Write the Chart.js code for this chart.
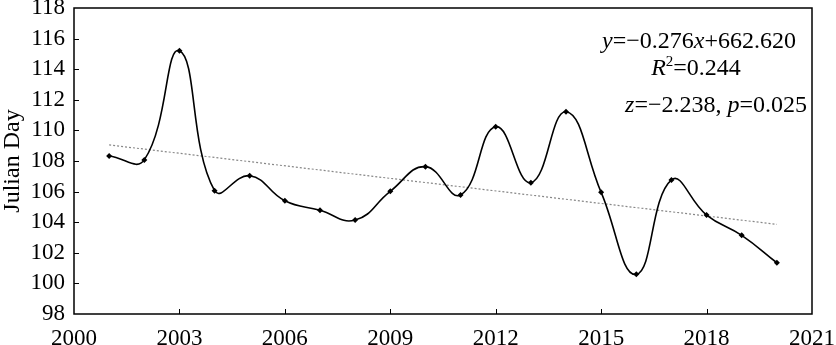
<!DOCTYPE html>
<html>
<head>
<meta charset="utf-8">
<script src="https://cdn.jsdelivr.net/npm/chart.js@4/dist/chart.umd.min.js"></script>
<style>
  html, body { margin: 0; padding: 0; background: #fff; }
</style>
</head>
<body>
<canvas id="chart" width="836" height="345"></canvas>
<script>
const years = [2001, 2002, 2003, 2004, 2005, 2006, 2007, 2008, 2009, 2010,
  2011, 2012, 2013, 2014, 2015, 2016, 2017, 2018, 2019, 2020];
const julianDay = [108.33, 108.07, 115.2, 106.06, 107.04, 105.4, 104.78, 104.14, 106.02, 107.63,
  105.78, 110.24, 106.58, 111.22, 105.95, 100.59, 106.76, 104.47, 103.14, 101.35];
const trendYears = [2001, 2020];
const trendValues = [109.05, 103.86];

const FONT = '"Liberation Serif", "Times New Roman", serif';

// text lines of the regression note: [text, italic]
const noteLines = [
  { align: 'center', dx: -113, y: 48, parts: [['y', true], ['=\u22120.276', false], ['x', true], ['+662.620', false]] },
  { align: 'center', dx: -116, y: 75, parts: [['R', true], ['2', false, 'sup'], ['=0.244', false]] },
  { align: 'right', dx: -5, y: 112, parts: [['z', true], ['=\u22122.238, ', false], ['p', true], ['=0.025', false]] },
];

const framePlugin = {
  id: 'frame',
  afterDraw(chart) {
    const { ctx, chartArea: a, scales: { x, y } } = chart;
    ctx.save();
    ctx.strokeStyle = '#000';
    ctx.lineWidth = 1.5;
    ctx.strokeRect(a.left, a.top, a.right - a.left, a.bottom - a.top);
    ctx.lineWidth = 1;
    ctx.beginPath();
    x.ticks.forEach((t) => {
      const px = Math.round(x.getPixelForValue(t.value)) + 0.5;
      if (px < a.left + 2 || px > a.right - 2) return;
      ctx.moveTo(px, a.bottom);
      ctx.lineTo(px, a.bottom - 5);
    });
    y.ticks.forEach((t) => {
      const py = Math.round(y.getPixelForValue(t.value)) + 0.5;
      if (py < a.top + 2 || py > a.bottom - 2) return;
      ctx.moveTo(a.left, py);
      ctx.lineTo(a.left + 5, py);
    });
    ctx.stroke();

    // regression note
    ctx.fillStyle = '#000';
    ctx.textBaseline = 'alphabetic';
    ctx.textAlign = 'left';
    noteLines.forEach((line) => {
      const fontFor = (p) => `${p[1] ? 'italic ' : ''}${p[2] === 'sup' ? 15 : 24}px ${FONT}`;
      let total = 0;
      line.parts.forEach((p) => { ctx.font = fontFor(p); total += ctx.measureText(p[0]).width; });
      let cx = line.align === 'center' ? a.right + line.dx - total / 2 : a.right + line.dx - total;
      line.parts.forEach((p) => {
        ctx.font = fontFor(p);
        ctx.fillText(p[0], cx, p[2] === 'sup' ? line.y - 9 : line.y);
        cx += ctx.measureText(p[0]).width;
      });
    });
    ctx.restore();
  },
};

new Chart(document.getElementById('chart'), {
  type: 'line',
  data: {
    datasets: [{
      label: 'Julian Day',
      data: years.map((yr, i) => ({ x: yr, y: julianDay[i] })),
      borderColor: '#000',
      borderWidth: 1.6,
      tension: 0.45,
      pointStyle: 'rectRot',
      pointRadius: 3,
      pointBackgroundColor: '#000',
      pointBorderColor: '#000',
      pointBorderWidth: 0,
    }, {
      label: 'Trend',
      data: trendYears.map((yr, i) => ({ x: yr, y: trendValues[i] })),
      borderColor: '#888',
      borderWidth: 1.2,
      borderDash: [2, 2],
      pointRadius: 0,
      tension: 0,
    }],
  },
  options: {
    responsive: false,
    animation: false,
    layout: { padding: { top: 8, right: 24, left: 0, bottom: 0 } },
    plugins: {
      legend: { display: false },
      tooltip: { enabled: false },
    },
    scales: {
      x: {
        type: 'linear',
        min: 2000,
        max: 2021,
        grid: { display: false, drawTicks: false },
        border: { display: false },
        ticks: {
          stepSize: 3,
          padding: 11,
          maxRotation: 0,
          autoSkip: false,
          color: '#000',
          font: { family: FONT, size: 23 },
          callback: (v) => String(v),
        },
        afterFit: (scale) => {
          scale.height = 31;
          scale.paddingLeft = 0;
          scale.paddingRight = 0;
        },
      },
      y: {
        min: 98,
        max: 118,
        grid: { display: false, drawTicks: false },
        border: { display: false },
        ticks: {
          stepSize: 2,
          padding: 9,
          autoSkip: false,
          color: '#000',
          font: { family: FONT, size: 23 },
        },
        title: {
          display: true,
          text: 'Julian Day',
          color: '#000',
          padding: { top: -2, bottom: 0 },
          font: { family: FONT, size: 24 },
        },
        afterFit: (scale) => {
          scale.width = 74;
          scale.paddingTop = 0;
          scale.paddingBottom = 0;
        },
      },
    },
  },
  plugins: [framePlugin],
});
</script>
</body>
</html>
